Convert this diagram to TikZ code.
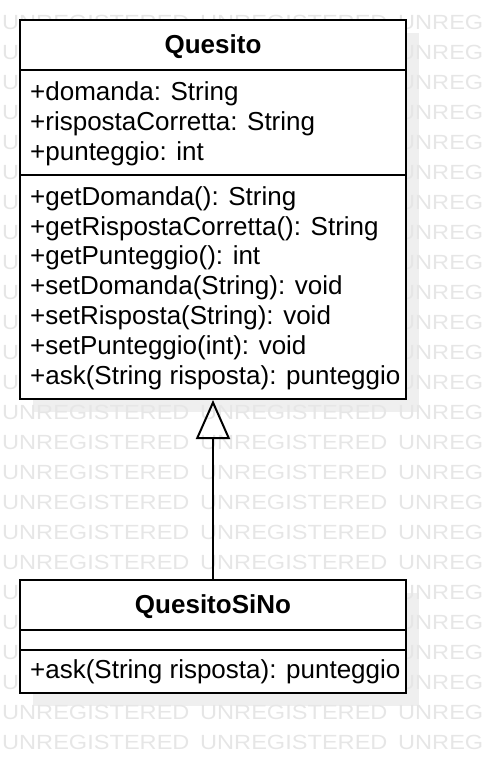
\documentclass[tikz,border=0pt]{standalone}
\usepackage{fontspec}
\setmainfont{Liberation Sans}
\usetikzlibrary{arrows.meta,positioning}

\definecolor{wmgray}{HTML}{E6E6E6}
\definecolor{shadowgray}{HTML}{EFEFEF}

\begin{document}
\begin{tikzpicture}[x=1pt,y=-1pt,
    classbox/.style={draw=black, line width=2pt, fill=white, inner sep=0pt},
    member/.style={anchor=base west, inner sep=0pt, font=\fontsize{26}{30}\selectfont},
    classname/.style={anchor=base, inner sep=0pt, font=\fontsize{26}{30}\selectfont\bfseries},
    watermark/.style={anchor=west, inner sep=0pt, text=wmgray, font=\fontsize{20.5}{24}\selectfont}]

  \useasboundingbox (0,0) rectangle (484,774);

  % --- Shadows ---
  \fill[shadowgray] (33,33) rectangle (419,412);
  \fill[shadowgray] (33,593) rectangle (419,706);

  % --- Watermark ---
  \begin{scope}
    \clip (0,0) rectangle (484,774);
    \foreach \row in {0,...,24}
      \foreach \col in {0,1,2}
        \node[watermark] (wm-\row-\col) at (2+198*\col, 22+30*\row)
          {\scalebox{1.15}[1]{UNREGISTERED}};
  \end{scope}

  % --- Class Quesito ---
  \node[classbox, minimum width=386pt, minimum height=379pt] (quesito) at (213,209.5) {};
  \coordinate (qa) at (20,70);
  \coordinate (qb) at (20,175);
  \draw[line width=2pt] (qa) -- (qa -| quesito.east);
  \draw[line width=2pt] (qb) -- (qb -| quesito.east);

  \node[classname] (qname) at (213,53) {Quesito};

  \node[member] (domanda)   at (30,100) {+domanda: String};
  \node[member] (risposta)  at (30,130) {+rispostaCorretta: String};
  \node[member] (punteggio) at (30,160) {+punteggio: int};

  \node[member] (getdom)  at (30,205) {+getDomanda(): String};
  \node[member] (getris)  at (30,235) {+getRispostaCorretta(): String};
  \node[member] (getpun)  at (30,264.5) {+getPunteggio(): int};
  \node[member] (setdom)  at (30,294) {+setDomanda(String): void};
  \node[member] (setris)  at (30,324) {+setRisposta(String): void};
  \node[member] (setpun)  at (30,354) {+setPunteggio(int): void};
  \node[member] (ask)     at (30,384) {+ask(String risposta): punteggio};

  % --- Class QuesitoSiNo ---
  \node[classbox, minimum width=386pt, minimum height=113pt] (sino) at (213,636.5) {};
  \coordinate (sa) at (20,630);
  \coordinate (sb) at (20,650);
  \draw[line width=2pt] (sa) -- (sa -| sino.east);
  \draw[line width=2pt] (sb) -- (sb -| sino.east);

  \node[classname] (sname) at (213,613) {QuesitoSiNo};
  \node[member] (siask) at (30,678) {+ask(String risposta): punteggio};

  % --- Generalization ---
  \draw[line width=2pt, -{Triangle[open, length=39pt, width=34pt]}]
    (sino.north) -- (quesito.south);

\end{tikzpicture}
\end{document}
